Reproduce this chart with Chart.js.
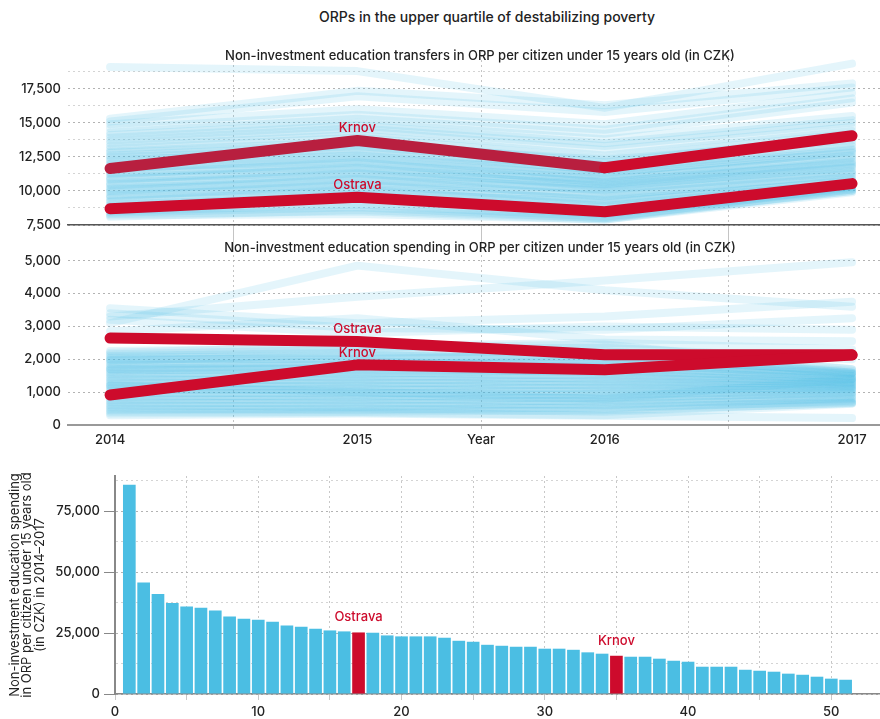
<!DOCTYPE html>
<html>
<head>
<meta charset="utf-8">
<title>ORPs in the upper quartile of destabilizing poverty</title>
<script src="https://cdn.jsdelivr.net/npm/chart.js@4.4.1/dist/chart.umd.min.js"></script>
<style>
  html, body { margin: 0; padding: 0; background: #fff; }
  body { position: relative; width: 880px; height: 719px; overflow: hidden; font-family: Inter, "Noto Sans", sans-serif; }
  .heading { position: absolute; width: 880px; text-align: center; color: #222; font-size: 13px; font-weight: 500; white-space: nowrap; }
  canvas { position: absolute; left: 0; }
</style>
</head>
<body>
<div class="heading" style="left:47px; top:8px; font-size:14px;">ORPs in the upper quartile of destabilizing poverty</div>
<canvas id="transfers-chart" width="880" height="215" style="top:35px"></canvas>
<canvas id="spending-chart" width="880" height="220" style="top:235px"></canvas>
<canvas id="total-chart" width="880" height="259" style="top:460px"></canvas>
<div class="heading" style="left:40px; top:47px;">Non-investment education transfers in ORP per citizen under 15 years old (in CZK)</div>
<div class="heading" style="left:40px; top:239px;">Non-investment education spending in ORP per citizen under 15 years old (in CZK)</div>
<script>
// Years and x ticks (half-year ticks only carry the dotted grid)
const years = [2014, 2015, 2016, 2017];
const yearTicks = [2014, 2014.5, 2015, 2015.5, 2016, 2016.5, 2017];
const xTitle = 'Year';

// Transfers per citizen under 15 (CZK), 2014-2017
const transfersKrnov = [11650, 13700, 11700, 14050];
const transfersOstrava = [8700, 9530, 8470, 10540];
const transfersOthers = [
  [19100, 18800, 16100, 19350],
  [15300, 17350, 16300, 17900],
  [15100, 16950, 15800, 17600],
  [14900, 16000, 14900, 17200],
  [14600, 15600, 14500, 16800],
  [14300, 15300, 14200, 16500],
  [14100, 15000, 13800, 15500],
  [13900, 14800, 13500, 15200],
  [13700, 14600, 13300, 15000],
  [13500, 14400, 13000, 14700],
  [13300, 14100, 12600, 14400],
  [13100, 13900, 12400, 14200],
  [12900, 13600, 12100, 14000],
  [12800, 13400, 12300, 13700],
  [12600, 13300, 11900, 13900],
  [12500, 13000, 11800, 13500],
  [12300, 12800, 11600, 13300],
  [12200, 13100, 11500, 13100],
  [12000, 12600, 11300, 13000],
  [11900, 12400, 11400, 12800],
  [11700, 12200, 11100, 12900],
  [11600, 12500, 11000, 12600],
  [11400, 12000, 10900, 12400],
  [11300, 11800, 10800, 12500],
  [11200, 12100, 10600, 12200],
  [11000, 11600, 10700, 12000],
  [10900, 11400, 10500, 12100],
  [10800, 11700, 10300, 11800],
  [10600, 11200, 10400, 11700],
  [10500, 11000, 10200, 11900],
  [10400, 11300, 10000, 11500],
  [10200, 10800, 10100, 11400],
  [10100, 10600, 9800, 11200],
  [10000, 10900, 9600, 11300],
  [9900, 10400, 9700, 11000],
  [9700, 10200, 9400, 10900],
  [9600, 10500, 9300, 10700],
  [9500, 10000, 9100, 10800],
  [9300, 9800, 9200, 10500],
  [9200, 10100, 8900, 10600],
  [9000, 9600, 8800, 10300],
  [8900, 9400, 8600, 10400],
  [8800, 9700, 8400, 10200],
  [8600, 9200, 8300, 10100],
  [8500, 9000, 8100, 10000],
  [8400, 8800, 8000, 10300],
  [8300, 8500, 7900, 9900],
  [8200, 8300, 7900, 10100],
  [8100, 8600, 8000, 10000],
];
const transfersTicks = [7500, 8750, 10000, 11250, 12500, 13750, 15000, 16250, 17500, 18750];

// Spending per citizen under 15 (CZK), 2014-2017
const spendingKrnov = [915, 1830, 1680, 2130];
const spendingOstrava = [2645, 2540, 2135, 2135];
const spendingOthers = [
  [3100, 4850, 4100, 3600],
  [3300, 3900, 4400, 4950],
  [3550, 3100, 3300, 3750],
  [3400, 2950, 2900, 3250],
  [3200, 2800, 3000, 2900],
  [2850, 3250, 2600, 2550],
  [2200, 2400, 2500, 2300],
  [2150, 2300, 2350, 2000],
  [2100, 2200, 2250, 1700],
  [2050, 2100, 2050, 1650],
  [2000, 2000, 2150, 1600],
  [1950, 2150, 1950, 1580],
  [1900, 1900, 1850, 1550],
  [1850, 1800, 1900, 1500],
  [1800, 1950, 1750, 1480],
  [1750, 1700, 1800, 1450],
  [1700, 1650, 1650, 1420],
  [1650, 1750, 1600, 1400],
  [1600, 1550, 1700, 1380],
  [1550, 1600, 1500, 1350],
  [1500, 1450, 1550, 1320],
  [1450, 1500, 1400, 1300],
  [1400, 1350, 1450, 1280],
  [1350, 1400, 1300, 1250],
  [1300, 1250, 1350, 1220],
  [1250, 1300, 1200, 1200],
  [1200, 1150, 1250, 1180],
  [1150, 1200, 1100, 1150],
  [1100, 1050, 1150, 1120],
  [1050, 1100, 1000, 1100],
  [1000, 950, 1050, 1080],
  [950, 1000, 900, 1050],
  [900, 850, 950, 1000],
  [850, 900, 800, 980],
  [800, 750, 850, 950],
  [750, 800, 700, 900],
  [700, 650, 750, 870],
  [650, 700, 600, 820],
  [600, 550, 650, 780],
  [550, 600, 500, 740],
  [500, 450, 550, 700],
  [450, 500, 400, 680],
  [400, 400, 450, 660],
  [350, 380, 300, 650],
  [300, 350, 280, 210],
  [2250, 2350, 2450, 1700],
  [1980, 2050, 2100, 1600],
  [1700, 1850, 1950, 1550],
  [1200, 1000, 800, 1400],
];
const spendingTicks = [0, 500, 1000, 1500, 2000, 2500, 3000, 3500, 4000, 4500, 5000];

// Total spending 2014-2017 by rank
const ranks = [1, 2, 3, 4, 5, 6, 7, 8, 9, 10, 11, 12, 13, 14, 15, 16, 17, 18, 19, 20, 21, 22, 23, 24, 25, 26,
  27, 28, 29, 30, 31, 32, 33, 34, 35, 36, 37, 38, 39, 40, 41, 42, 43, 44, 45, 46, 47, 48, 49, 50, 51];
const totals = [85900, 45750, 41100, 37400, 35900, 35400, 34300, 31800, 30900, 30450, 29650, 28150, 27600,
  26800, 26100, 25700, 25270, 25150, 24050, 23650, 23650, 23650, 23100, 21850, 21450, 20200, 19800, 19400,
  19400, 18600, 18600, 18150, 17100, 16550, 15700, 15300, 15300, 14500, 13650, 13250, 11200, 11200, 11200,
  9950, 9550, 9150, 8350, 7900, 7100, 6300, 5850];
const highlightRanks = [17, 35];
const highlightNames = ['Ostrava', 'Krnov'];
const totalYTicks = [0, 12500, 25000, 37500, 50000, 62500, 75000, 87500];
const totalXTicks = [0, 5, 10, 15, 20, 25, 30, 35, 40, 45, 50];
const totalTitle = ['Non-investment education spending', 'in ORP per citizen under 15 years old', '(in CZK) in 2014\u20132017'];

// Styles
const red = '#cd0b2c';
const redDim = '#b81f3f';
const blueBar = '#4bbee3';
const blueLine = 'rgba(75, 190, 227, 0.15)';
const textColor = '#222';
const tickFont = { family: 'Inter', size: 13, weight: '500' };
const fmt = (v) => v.toLocaleString('en-US');

const toPoints = (row) => years.map((yr, i) => ({ x: yr, y: row[i] }));

function lineDatasets(krnov, ostrava, others, krnovDim) {
  const sets = [
    {
      name: 'Krnov',
      data: toPoints(krnov),
      borderColor: red,
      borderWidth: 11,
      segment: krnovDim ? { borderColor: (ctx) => (ctx.p1DataIndex < 3 ? redDim : red) } : undefined,
    },
    { name: 'Ostrava', data: toPoints(ostrava), borderColor: red, borderWidth: 11 },
  ];
  others.forEach((row) => {
    sets.push({ data: toPoints(row), borderColor: blueLine, borderWidth: 8 });
  });
  return sets;
}

// Draws the town name above the 2015 point of each red line
const lineNames = {
  id: 'lineNames',
  afterDatasetsDraw(chart) {
    const ctx = chart.ctx;
    chart.data.datasets.forEach((ds, i) => {
      if (!ds.name) return;
      const pt = chart.getDatasetMeta(i).data[1];
      ctx.save();
      ctx.font = '500 13px Inter';
      ctx.fillStyle = red;
      ctx.textAlign = 'center';
      ctx.textBaseline = 'middle';
      ctx.fillText(ds.name, pt.x, pt.y - 12);
      ctx.restore();
    });
  },
};

// Names above the highlighted bars
const barNames = {
  id: 'barNames',
  afterDatasetsDraw(chart) {
    const ctx = chart.ctx;
    const meta = chart.getDatasetMeta(0);
    highlightRanks.forEach((rank, k) => {
      const bar = meta.data[ranks.indexOf(rank)];
      ctx.save();
      ctx.font = '500 13px Inter';
      ctx.fillStyle = red;
      ctx.textAlign = 'center';
      ctx.textBaseline = 'middle';
      ctx.fillText(highlightNames[k], bar.x, bar.y - 15);
      ctx.restore();
    });
  },
};

const isHalf = (ctx) => ctx.tick && !Number.isInteger(ctx.tick.value);

function yearAxis(showLabels, tickLength, height) {
  return {
    type: 'linear',
    min: 2013.83,
    max: 2017.113,
    afterBuildTicks: (s) => { s.ticks = yearTicks.map((v) => ({ value: v })); },
    afterFit: (s) => { s.height = height; },
    ticks: {
      display: showLabels,
      autoSkip: false,
      maxRotation: 0,
      padding: 3,
      color: textColor,
      font: tickFont,
      callback: (v) => (Number.isInteger(v) ? String(v) : (v === 2015.5 ? xTitle : '')),
    },
    grid: {
      color: (ctx) => (isHalf(ctx) ? '#c4c4c4' : 'rgba(0,0,0,0)'),
      tickLength: tickLength,
    },
    border: { dash: [2, 3] },
  };
}

function valueAxis(min, max, ticks, major) {
  return {
    min: min,
    max: max,
    afterBuildTicks: (s) => { s.ticks = ticks.map((v) => ({ value: v })); },
    afterFit: (s) => { s.width = 68; },
    ticks: {
      padding: 7,
      color: textColor,
      font: tickFont,
      callback: (v) => (v % major === 0 ? fmt(v) : ''),
    },
    grid: {
      drawTicks: false,
      color: (ctx) => (ctx.tick && ctx.tick.value % major === 0 ? '#b3b3b3' : '#d4d4d4'),
    },
    border: { display: false, dash: [2, 3] },
  };
}

const baseOptions = {
  responsive: false,
  animation: false,
  events: [],
  elements: {
    point: { radius: 0 },
    line: { tension: 0, borderCapStyle: 'round', borderJoinStyle: 'round', fill: false },
  },
  plugins: { legend: { display: false }, tooltip: { enabled: false } },
};

// Transfers chart
const transfersX = yearAxis(false, 25, 25);
transfersX.border.color = '#555';
transfersX.border.width = 1.5;
new Chart(document.getElementById('transfers-chart'), {
  type: 'line',
  data: { datasets: lineDatasets(transfersKrnov, transfersOstrava, transfersOthers, true) },
  options: {
    ...baseOptions,
    layout: { padding: { top: 15, left: 0, right: 0, bottom: 0 } },
    scales: {
      x: transfersX,
      y: valueAxis(7500, 20350, transfersTicks, 2500),
    },
  },
  plugins: [lineNames],
});

// Spending chart
const spendingX = yearAxis(true, 4, 30);
spendingX.border.color = '#999';
spendingX.border.width = 2;
new Chart(document.getElementById('spending-chart'), {
  type: 'line',
  data: { datasets: lineDatasets(spendingKrnov, spendingOstrava, spendingOthers, false) },
  options: {
    ...baseOptions,
    layout: { padding: { top: 15, left: 0, right: 0, bottom: 0 } },
    scales: {
      x: spendingX,
      y: valueAxis(0, 5326, spendingTicks, 1000),
    },
  },
  plugins: [lineNames],
});

// Ranked totals bar chart
new Chart(document.getElementById('total-chart'), {
  type: 'bar',
  data: {
    datasets: [{
      data: ranks.map((r, i) => ({ x: r, y: totals[i] })),
      backgroundColor: (ctx) => (ctx.raw && highlightRanks.includes(ctx.raw.x) ? red : blueBar),
      categoryPercentage: 1,
      barPercentage: 0.885,
    }],
  },
  options: {
    ...baseOptions,
    layout: { padding: { top: 16, left: 0, right: 0, bottom: 0 } },
    scales: {
      x: {
        type: 'linear',
        min: 0,
        max: 53.4,
        offset: false,
        afterBuildTicks: (s) => { s.ticks = totalXTicks.map((v) => ({ value: v })); },
        afterFit: (s) => { s.height = 25; },
        ticks: {
          autoSkip: false,
          maxRotation: 0,
          padding: 4,
          color: textColor,
          font: tickFont,
          callback: (v) => (v % 10 === 0 ? String(v) : ''),
        },
        grid: { offset: false, color: '#c8c8c8', tickLength: 6 },
        border: { color: '#888', width: 1.5, dash: [2, 3] },
      },
      y: {
        min: 0,
        max: 89500,
        afterBuildTicks: (s) => { s.ticks = totalYTicks.map((v) => ({ value: v })); },
        afterFit: (s) => { s.width = 115; },
        title: {
          display: true,
          text: totalTitle,
          color: textColor,
          font: { family: 'Inter', size: 13, weight: '400', lineHeight: 0.95 },
          padding: { top: 9, bottom: 0 },
        },
        ticks: {
          padding: 4,
          color: textColor,
          font: tickFont,
          callback: (v) => (v % 25000 === 0 ? fmt(v) : ''),
        },
        grid: {
          tickLength: 11,
          color: (ctx) => (ctx.tick && ctx.tick.value % 25000 === 0 ? '#b3b3b3' : '#d4d4d4'),
          tickColor: (ctx) => (ctx.tick && ctx.tick.value % 25000 === 0 ? '#888' : 'rgba(0,0,0,0)'),
          tickBorderDash: [],
        },
        border: { color: '#888', width: 2, dash: [2, 3] },
      },
    },
  },
  plugins: [barNames],
});
</script>
</body>
</html>
